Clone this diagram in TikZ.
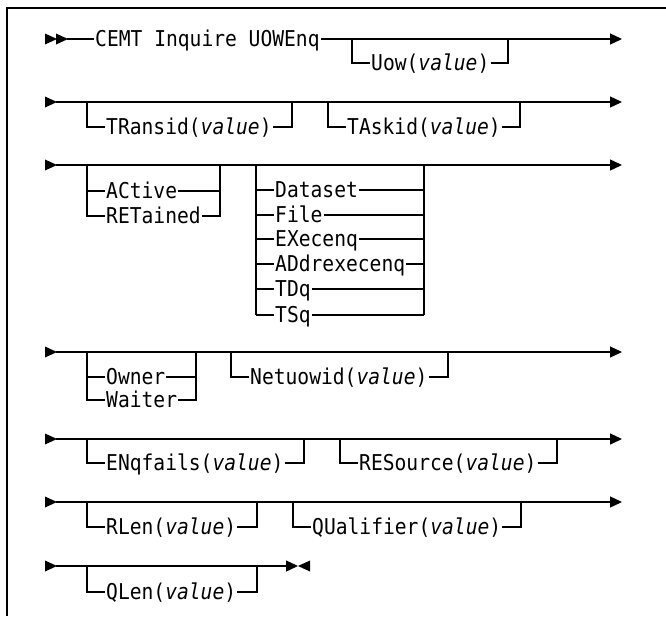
\documentclass[tikz,border=0pt]{standalone}
\usepackage{fontspec}
\newfontfamily\mono[FakeStretch=0.9]{DejaVu Sans Mono}
\newcommand\monosz{\mono\fontsize{21.8pt}{24pt}\selectfont}
\usetikzlibrary{arrows.meta}
\tikzset{
  rail/.style={line width=1.3pt},
  endarrow/.style={rail,-{Triangle[length=12pt,width=11pt]}},
  lbl/.style={font=\monosz, anchor=west, inner xsep=1pt, inner ysep=0pt, text height=14.4pt, text depth=0pt},
  pics/rtri/.style={code={\fill (0,-5.5) -- (12,0) -- (0,5.5) -- cycle;}},
  pics/ltri/.style={code={\fill (0,-5.5) -- (-12,0) -- (0,5.5) -- cycle;}},
}
% single optional item below the main line
\newcommand\optone[6]{%
  \coordinate (#1-a) at (#2,#4);
  \coordinate (#1-b) at (#2,#5);
  \node[lbl] (#1) at (#2+18,#5) {#6};
  \coordinate (#1-c) at (#3,#5);
  \coordinate (#1-d) at (#3,#4);
  \draw[rail] (#1-a) -- (#1-b) -- (#1.west);
  \draw[rail] (#1.east) -- (#1-c) -- (#1-d);
}
\begin{document}
\begin{tikzpicture}[x=1pt,y=-1pt]
\useasboundingbox (0,0) rectangle (666,616);
% frame (top and left edges visible)
\coordinate (fr1) at (666,8);
\coordinate (fr2) at (7,8);
\coordinate (fr3) at (7,616);
\draw[line width=1.8pt] (fr1) -- (fr2) -- (fr3);

% ---------- Row 1 ----------
\pic at (45,39) {rtri};
\pic at (56,39) {rtri};
\coordinate (s1) at (67,39);
\node[lbl] (cmd) at (94,39) {CEMT Inquire UOWEnq};
\coordinate (e1) at (622,39);
\draw[rail] (s1) -- (cmd.west);
\draw[endarrow] (cmd.east) -- (e1);
\optone{uow}{352}{508}{39}{63}{Uow(\textit{value})}

% ---------- Row 2 ----------
\pic at (45,102) {rtri};
\coordinate (s2) at (56,102);
\coordinate (e2) at (622,102);
\draw[endarrow] (s2) -- (e2);
\optone{tran}{87}{292}{102}{127}{TRansid(\textit{value})}
\optone{task}{328}{520}{102}{127}{TAskid(\textit{value})}

% ---------- Row 3 ----------
\pic at (45,165) {rtri};
\coordinate (s3) at (56,165);
\coordinate (e3) at (622,165);
\draw[endarrow] (s3) -- (e3);
% ACtive / RETained
\coordinate (ga1) at (87,165);
\coordinate (ga2) at (87,191);
\coordinate (ga3) at (87,216);
\coordinate (gb1) at (220,165);
\coordinate (gb2) at (220,191);
\coordinate (gb3) at (220,216);
\node[lbl] (act) at (105,191) {ACtive};
\node[lbl] (ret) at (105,216) {RETained};
\draw[rail] (ga1) -- (ga3) -- (ret.west);
\draw[rail] (ga2) -- (act.west);
\draw[rail] (act.east) -- (gb2);
\draw[rail] (ret.east) -- (gb3) -- (gb1);
% Dataset ... TSq
\coordinate (da0) at (256,165);
\coordinate (db0) at (424,165);
\foreach \n/\t/\y in {ds/Dataset/190, fi/File/215, ex/EXecenq/239, ad/ADdrexecenq/264, td/TDq/289, ts/TSq/315}{
  \coordinate (da-\n) at (256,\y);
  \coordinate (db-\n) at (424,\y);
  \node[lbl] (\n) at (274,\y) {\t};
  \draw[rail] (da-\n) -- (\n.west);
  \draw[rail] (\n.east) -- (db-\n);
}
\draw[rail] (da0) -- (da-ts);
\draw[rail] (db0) -- (db-ts);

% ---------- Row 4 ----------
\pic at (45,352) {rtri};
\coordinate (s4) at (56,352);
\coordinate (e4) at (622,352);
\draw[endarrow] (s4) -- (e4);
\coordinate (oa1) at (87,352);
\coordinate (oa2) at (87,377);
\coordinate (oa3) at (87,400);
\coordinate (ob1) at (196,352);
\coordinate (ob2) at (196,377);
\coordinate (ob3) at (196,400);
\node[lbl] (own) at (105,377) {Owner};
\node[lbl] (wai) at (105,400) {Waiter};
\draw[rail] (oa1) -- (oa3) -- (wai.west);
\draw[rail] (oa2) -- (own.west);
\draw[rail] (own.east) -- (ob2);
\draw[rail] (wai.east) -- (ob3) -- (ob1);
\optone{net}{231}{448}{352}{377}{Netuowid(\textit{value})}

% ---------- Row 5 ----------
\pic at (45,439) {rtri};
\coordinate (s5) at (56,439);
\coordinate (e5) at (622,439);
\draw[endarrow] (s5) -- (e5);
\optone{enq}{87}{304}{439}{463}{ENqfails(\textit{value})}
\optone{res}{340}{557}{439}{463}{RESource(\textit{value})}

% ---------- Row 6 ----------
\pic at (45,502) {rtri};
\coordinate (s6) at (56,502);
\coordinate (e6) at (622,502);
\draw[endarrow] (s6) -- (e6);
\optone{rlen}{87}{257}{502}{527}{RLen(\textit{value})}
\optone{qual}{293}{521}{502}{527}{QUalifier(\textit{value})}

% ---------- Row 7 ----------
\pic at (45,566) {rtri};
\coordinate (s7) at (56,566);
\coordinate (e7) at (298,566);
\draw[endarrow] (s7) -- (e7);
\pic at (310,566) {ltri};
\optone{qlen}{87}{257}{566}{592}{QLen(\textit{value})}
\end{tikzpicture}
\end{document}
